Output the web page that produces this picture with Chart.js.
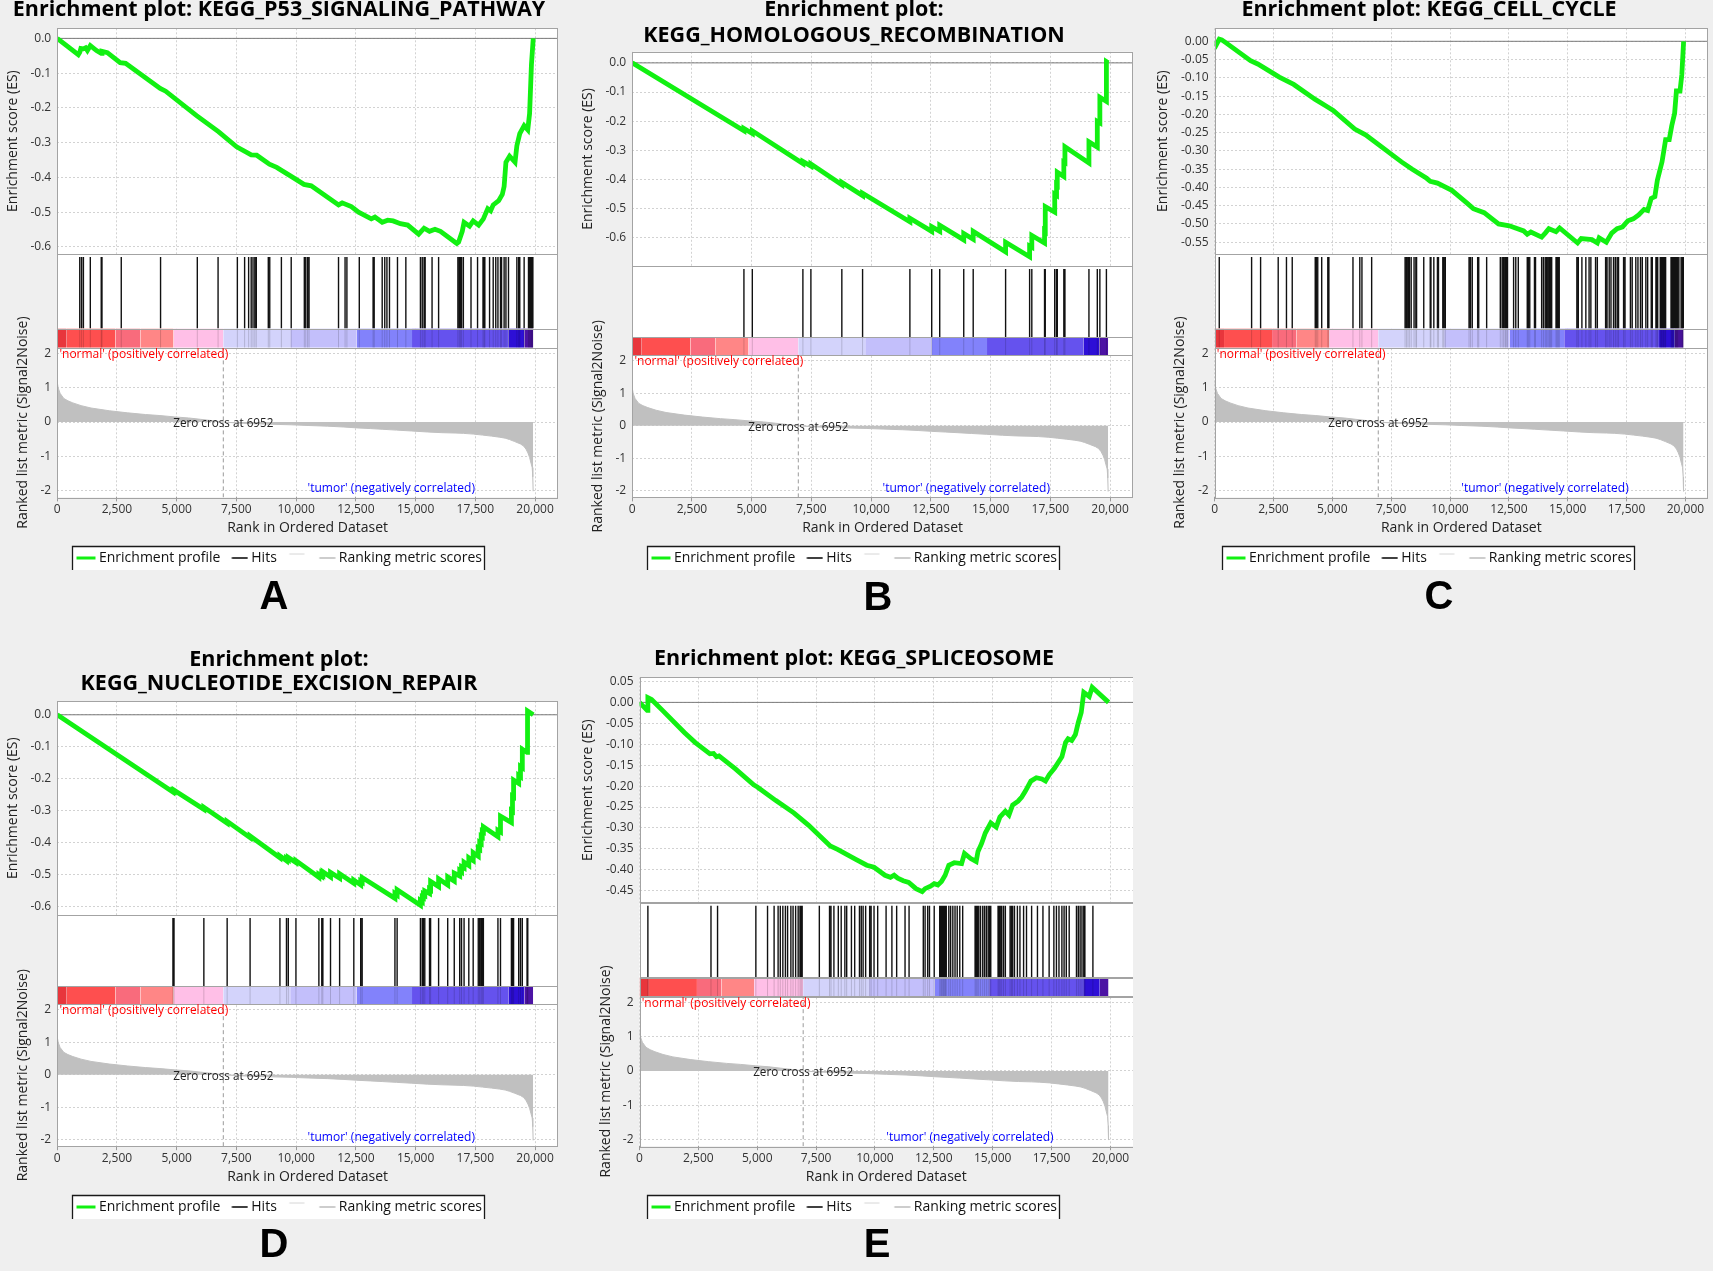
<!DOCTYPE html>
<html>
<head>
<meta charset="utf-8">
<script src="https://cdn.jsdelivr.net/npm/chart.js@4"></script>
<style>
html,body{margin:0;padding:0;background:#efefef;}
body{width:1713px;height:1271px;position:relative;overflow:hidden;}
canvas{position:absolute;}
.letter{position:absolute;font:bold 40px "Liberation Sans",Arial,sans-serif;color:#000;transform:translate(-50%,-50%);line-height:1;}
</style>
</head>
<body>
<script>
// ---------------- shared data ----------------
const xMax = 20960;
const xTicks = [0, 2500, 5000, 7500, 10000, 12500, 15000, 17500, 20000];
const xTickLabels = ['0', '2,500', '5,000', '7,500', '10,000', '12,500', '15,000', '17,500', '20,000'];

const metricRanks  = [0, 40, 120, 275, 450, 655, 1000, 1417, 2180, 2940, 3700, 4300, 4920, 5500, 6000, 6500, 6952, 7600, 8270, 9000, 9790, 10500, 11320, 12000, 12540, 13100, 13600, 14200, 14820, 15500, 16100, 16650, 17000, 17410, 17800, 18170, 18500, 18750, 18930, 19150, 19390, 19520, 19620, 19700, 19770, 19830, 19880, 19905, 19920];
const metricValues = [1.18, 1.0, 0.84, 0.69, 0.62, 0.56, 0.48, 0.41, 0.33, 0.27, 0.22, 0.19, 0.15, 0.12, 0.08, 0.04, 0.0, -0.03, -0.05, -0.065, -0.08, -0.10, -0.12, -0.145, -0.17, -0.19, -0.21, -0.235, -0.26, -0.29, -0.31, -0.32, -0.33, -0.35, -0.38, -0.41, -0.44, -0.47, -0.51, -0.57, -0.64, -0.70, -0.79, -0.90, -1.03, -1.2, -1.33, -1.6, -2.02];
const metricTicks = [-2, -1, 0, 1, 2];
const metricTickLabels = ['-2', '-1', '0', '1', '2'];
const metricRange = [-2.2, 2.17];

const bandEdges  = [0, 400, 2440, 3480, 4870, 6950, 9750, 12540, 14850, 18880, 19550, 19920];
const bandColors = ['#e8363c', '#fe4f4f', '#f96b7c', '#ff8686', '#ffbfe7', '#d3d3fb', '#c3bffb', '#8282fb', '#6552ee', '#2d0fd6', '#4c13a4'];

const zeroCross = 6952;
const posLabel = "'normal' (positively correlated)";
const negLabel = "'tumor' (negatively correlated)";
const zeroLabel = 'Zero cross at 6952';
const legendNames = ['Enrichment profile', 'Hits', '', 'Ranking metric scores'];
const xTitle = 'Rank in Ordered Dataset';
const esTitle = 'Enrichment score (ES)';
const metricTitle = 'Ranked list metric (Signal2Noise)';

const esTicks1 = [-0.6, -0.5, -0.4, -0.3, -0.2, -0.1, 0];
const esTickLabels1 = ['-0.6', '-0.5', '-0.4', '-0.3', '-0.2', '-0.1', '0.0'];
const esTicksC = [-0.55, -0.5, -0.45, -0.4, -0.35, -0.3, -0.25, -0.2, -0.15, -0.1, -0.05, 0];
const esTickLabelsC = ['-0.55', '-0.50', '-0.45', '-0.40', '-0.35', '-0.30', '-0.25', '-0.20', '-0.15', '-0.10', '-0.05', '0.00'];
const esTicksE = [-0.45, -0.4, -0.35, -0.3, -0.25, -0.2, -0.15, -0.1, -0.05, 0, 0.05];
const esTickLabelsE = ['-0.45', '-0.40', '-0.35', '-0.30', '-0.25', '-0.20', '-0.15', '-0.10', '-0.05', '0.00', '0.05'];

// ---------------- panel A ----------------
const titleA = ['Enrichment plot: KEGG_P53_SIGNALING_PATHWAY'];
const esRangeA = [-0.62, 0.029];
const esA = [[0,0],[883,-0.047],[944,-0.04],[990,-0.029],[1097,-0.03],[1188,-0.027],[1264,-0.035],[1386,-0.021],[1645,-0.035],[1843,-0.043],[1874,-0.037],[2100,-0.041],[2635,-0.07],[2864,-0.072],[4311,-0.144],[4540,-0.152],[5834,-0.222],[6748,-0.268],[7510,-0.312],[8119,-0.335],[8348,-0.336],[8881,-0.362],[9186,-0.371],[9794,-0.397],[10327,-0.42],[10632,-0.424],[11775,-0.479],[11927,-0.473],[12308,-0.484],[12613,-0.5],[13146,-0.519],[13298,-0.514],[13603,-0.529],[13832,-0.523],[14060,-0.525],[14365,-0.533],[14670,-0.537],[15127,-0.563],[15355,-0.546],[15583,-0.555],[15811,-0.549],[16040,-0.555],[16725,-0.59],[16801,-0.586],[16953,-0.555],[17029,-0.529],[17258,-0.54],[17410,-0.525],[17639,-0.537],[17837,-0.519],[17943,-0.502],[18020,-0.49],[18141,-0.496],[18248,-0.479],[18477,-0.467],[18629,-0.449],[18705,-0.426],[18781,-0.356],[18933,-0.339],[19162,-0.356],[19238,-0.309],[19360,-0.274],[19543,-0.251],[19695,-0.263],[19771,-0.216],[19848,-0.076],[19924,0]];
const hitsA = [944,1021,1097,1386,1843,1874,2681,4326,5864,6733,7540,7844,8012,8119,8195,8271,8332,8835,8896,9383,9794,10343,10403,10480,10541,11774,12048,12125,12643,13221,13267,13602,13709,13800,13907,14242,14592,15202,15278,15354,15400,15689,15963,16770,16831,16877,16923,16999,17319,17593,17821,17867,17898,18096,18248,18355,18446,18553,18598,18705,18781,18888,19238,19314,19360,19543,19725,19771,19817,19848,19878,19908];

// ---------------- panel B ----------------
const titleB = ['Enrichment plot:', 'KEGG_HOMOLOGOUS_RECOMBINATION'];
const esRangeB = [-0.697, 0.038];
const esB = [[0,0],[4676,-0.233],[4676,-0.225],[5027,-0.242],[5027,-0.233],[7144,-0.345],[7144,-0.338],[7479,-0.354],[7479,-0.347],[8774,-0.418],[8774,-0.41],[9642,-0.455],[9642,-0.447],[11622,-0.545],[11622,-0.533],[12536,-0.578],[12536,-0.562],[12871,-0.578],[12871,-0.557],[13876,-0.607],[13876,-0.585],[14272,-0.605],[14272,-0.578],[15628,-0.648],[15628,-0.615],[16633,-0.665],[16633,-0.628],[16725,-0.632],[16725,-0.592],[17258,-0.618],[17258,-0.576],[17288,-0.578],[17288,-0.493],[17684,-0.512],[17684,-0.45],[17760,-0.454],[17760,-0.417],[17791,-0.419],[17791,-0.375],[18065,-0.39],[18065,-0.34],[18111,-0.342],[18111,-0.288],[19116,-0.343],[19116,-0.271],[19466,-0.289],[19466,-0.201],[19573,-0.206],[19573,-0.118],[19847,-0.132],[19847,0.004],[19924,0]];
const hitsB = [4676,5027,7144,7479,8774,9642,11622,12536,12871,13876,14272,15628,16633,16725,17258,17288,17684,17760,17791,18065,18111,19116,19466,19573,19847];

// ---------------- panel C ----------------
const titleC = ['Enrichment plot: KEGG_CELL_CYCLE'];
const esRangeC = [-0.582, 0.0356];
const esC = [[0,0],[76,-0.009],[198,0.006],[305,0.004],[458,-0.003],[1527,-0.053],[1832,-0.062],[2595,-0.092],[2748,-0.098],[3359,-0.118],[4275,-0.159],[4733,-0.177],[5038,-0.189],[5954,-0.24],[6412,-0.256],[7939,-0.33],[8397,-0.35],[9008,-0.375],[9160,-0.383],[9466,-0.388],[10076,-0.408],[10687,-0.441],[10992,-0.458],[11450,-0.469],[12061,-0.5],[12519,-0.505],[13130,-0.519],[13282,-0.528],[13435,-0.522],[13893,-0.536],[14046,-0.525],[14199,-0.513],[14504,-0.521],[14656,-0.511],[15420,-0.552],[15573,-0.54],[16030,-0.543],[16259,-0.552],[16336,-0.538],[16641,-0.55],[16870,-0.525],[17099,-0.513],[17328,-0.508],[17557,-0.491],[17786,-0.486],[18015,-0.475],[18244,-0.46],[18397,-0.463],[18549,-0.43],[18702,-0.425],[18809,-0.38],[19007,-0.33],[19160,-0.269],[19313,-0.269],[19420,-0.231],[19542,-0.197],[19618,-0.136],[19771,-0.136],[19847,-0.092],[19924,0]];
const hitsC = [198,1572,1954,2702,3053,3298,4275,4321,4382,4550,4809,4855,5878,6168,6259,6672,8092,8153,8214,8274,8351,8473,8549,8580,8885,9160,9191,9313,9466,9511,9694,9740,9801,10809,10870,10946,11175,11221,11557,12137,12214,12275,12336,12366,12412,12443,12702,12794,12901,13282,13328,13389,13588,13633,13893,13969,14046,14107,14168,14229,14275,14320,14504,14549,14595,14641,15389,15450,15603,15771,15908,15984,16183,16259,16610,16671,16763,16839,16946,17023,17099,17160,17374,17435,17664,17740,17893,17984,18091,18168,18320,18397,18549,18595,18748,18794,18824,18931,18977,19007,19053,19084,19129,19160,19389,19420,19450,19481,19511,19542,19572,19603,19633,19664,19725,19817,19878,19910];

// ---------------- panel D ----------------
const titleD = ['Enrichment plot:', 'KEGG_NUCLEOTIDE_EXCISION_REPAIR'];
const esRangeD = [-0.628, 0.0425];
const esD = [[0,0],[4844,-0.242],[4844,-0.238],[4889,-0.24],[4889,-0.236],[6138,-0.296],[6138,-0.29],[7113,-0.34],[7113,-0.334],[8073,-0.385],[8073,-0.38],[9322,-0.448],[9322,-0.442],[9596,-0.457],[9596,-0.45],[9672,-0.454],[9672,-0.447],[9992,-0.463],[9992,-0.457],[10952,-0.509],[10952,-0.5],[11073,-0.506],[11073,-0.497],[11119,-0.5],[11119,-0.492],[11439,-0.508],[11439,-0.494],[11820,-0.512],[11820,-0.498],[12414,-0.528],[12414,-0.518],[12703,-0.533],[12703,-0.521],[12764,-0.524],[12764,-0.51],[14135,-0.575],[14135,-0.56],[14227,-0.565],[14227,-0.548],[15202,-0.597],[15202,-0.582],[15278,-0.586],[15278,-0.571],[15324,-0.573],[15324,-0.562],[15385,-0.565],[15385,-0.552],[15583,-0.56],[15583,-0.546],[15628,-0.548],[15628,-0.522],[15963,-0.538],[15963,-0.514],[16344,-0.533],[16344,-0.508],[16618,-0.521],[16618,-0.496],[16847,-0.505],[16847,-0.488],[16923,-0.492],[16923,-0.476],[17029,-0.48],[17029,-0.462],[17227,-0.472],[17227,-0.448],[17410,-0.457],[17410,-0.432],[17623,-0.443],[17623,-0.418],[17684,-0.421],[17684,-0.4],[17745,-0.403],[17745,-0.38],[17791,-0.382],[17791,-0.365],[17837,-0.367],[17837,-0.351],[18446,-0.382],[18446,-0.362],[18553,-0.367],[18553,-0.318],[19010,-0.338],[19010,-0.3],[19055,-0.302],[19055,-0.255],[19101,-0.257],[19101,-0.205],[19314,-0.215],[19314,-0.19],[19390,-0.194],[19390,-0.162],[19467,-0.166],[19467,-0.108],[19665,-0.118],[19665,-0.06],[19695,-0.062],[19695,0.012],[19924,0]];
const hitsD = [4844,4889,6138,7113,8073,9322,9596,9672,9992,10952,11073,11119,11439,11820,12414,12703,12764,14135,14227,15202,15278,15324,15385,15583,15628,15963,16344,16618,16847,16923,17029,17227,17410,17623,17684,17745,17791,17837,18446,18553,19010,19055,19101,19314,19390,19467,19665,19695];

// ---------------- panel E ----------------
const titleE = ['Enrichment plot: KEGG_SPLICEOSOME'];
const esRangeE = [-0.479, 0.0597];
const esE = [[0,0],[325,-0.019],[356,0.0115],[511,0.007],[976,-0.019],[1905,-0.072],[2370,-0.096],[2990,-0.123],[3145,-0.122],[3269,-0.13],[3377,-0.128],[4074,-0.159],[4849,-0.197],[5004,-0.202],[5779,-0.234],[6553,-0.264],[7173,-0.293],[8102,-0.343],[8412,-0.351],[9187,-0.375],[9652,-0.389],[9961,-0.394],[10426,-0.413],[10659,-0.418],[10814,-0.413],[10969,-0.42],[11201,-0.426],[11433,-0.43],[11743,-0.445],[12006,-0.452],[12130,-0.445],[12362,-0.439],[12517,-0.433],[12672,-0.436],[12827,-0.428],[12982,-0.413],[13137,-0.389],[13370,-0.383],[13680,-0.385],[13803,-0.361],[14067,-0.373],[14299,-0.38],[14377,-0.356],[14531,-0.337],[14686,-0.312],[14919,-0.288],[15151,-0.298],[15306,-0.274],[15538,-0.26],[15693,-0.269],[15848,-0.245],[16080,-0.236],[16235,-0.226],[16390,-0.212],[16623,-0.188],[16855,-0.18],[17088,-0.183],[17243,-0.188],[17398,-0.173],[17630,-0.157],[17940,-0.13],[18095,-0.096],[18203,-0.087],[18358,-0.091],[18513,-0.077],[18637,-0.048],[18761,-0.024],[18869,0.024],[19102,0.014],[19226,0.036],[19924,0]];
const hitsE = [356,3036,3315,4942,5438,5717,5887,5980,6088,6197,6290,6429,6522,6631,6739,6816,6863,6909,7638,8071,8133,8257,8443,8567,8722,8800,9001,9140,9342,9419,9497,9605,9775,9837,9961,10116,10473,10720,10922,11278,11449,12053,12130,12239,12316,12517,12750,12796,12827,12874,12905,12936,12967,12998,13029,13137,13215,13308,13401,13494,13602,13726,14253,14299,14346,14408,14485,14578,14655,14733,14810,14872,14919,15229,15275,15322,15384,15461,15539,15740,15802,15848,15926,16050,16158,16313,16437,16654,16902,17135,17398,17599,17708,17816,17940,18033,18126,18250,18559,18637,18714,18792,18869,18916,19257];

// ---------------- layout (positions / styles only) ----------------
const FONT = '"Open Sans", "DejaVu Sans", sans-serif';
const TITLE_SIZE = 21.5;
const panels = [
  {letter:'A', title:titleA, es:esA, hits:hitsA, esRange:esRangeA, esTicks:esTicks1, esLabels:esTickLabels1,
   left:0, top:-4, w:558, h:579, yW:57.2, lh:1.1163, tTop:2.1, tBot:6.2, xH:45.6, xPad:6.9, esPad:4.3, mPad:14.2, lx:274, ly:595},
  {letter:'B', title:titleB, es:esB, hits:hitsB, esRange:esRangeB, esTicks:esTicks1, esLabels:esTickLabels1,
   left:575, top:-4, w:558, h:579, yW:57.2, lh:1.186, tTop:1.35, tBot:3.45, xH:45.6, xPad:6.9, esPad:4.3, mPad:14.2, lx:878, ly:596},
  {letter:'C', title:titleC, es:esC, hits:hitsC, esRange:esRangeC, esTicks:esTicksC, esLabels:esTickLabelsC,
   left:1150, top:-4, w:558, h:579, yW:64.6, lh:1.1163, tTop:2.1, tBot:6.2, xH:45.6, xPad:6.9, esPad:4.9, mPad:22.1, lx:1439, ly:595},
  {letter:'D', title:titleD, es:esD, hits:hitsD, esRange:esRangeD, esTicks:esTicks1, esLabels:esTickLabels1,
   left:0, top:640, w:558, h:584, yW:57.2, lh:1.1256, tTop:8, tBot:4.8, xH:45.8, xPad:6.4, esPad:4.3, mPad:14.2, lx:274, ly:1243},
  {letter:'E', title:titleE, es:esE, hits:hitsE, esRange:esRangeE, esTicks:esTicksE, esLabels:esTickLabelsE,
   left:575, top:640, w:558, h:584, yW:64.5, lh:1.1163, tTop:7.3, tBot:6.1, xH:45.8, xPad:6.4, esPad:5.1, mPad:22.6, lx:877, ly:1243}
];

// legend swatch: a short line drawn at the right end of a small canvas (so the gap to the label is tight)
function lineIcon(color, width, len, raise) {
  const c = document.createElement('canvas');
  c.width = 24; c.height = 14;
  const g = c.getContext('2d');
  g.strokeStyle = color; g.lineWidth = width;
  g.beginPath();
  const y = 7 - raise;
  g.moveTo(24 - len - 0.5, y); g.lineTo(23.5, y);
  g.stroke();
  return c;
}

const decor = {
  id: 'gseaDecor',
  beforeDraw(chart) {
    const {ctx, chartArea: a} = chart;
    ctx.save();
    ctx.fillStyle = '#ffffff';
    ctx.fillRect(a.left, a.top, a.right - a.left, a.bottom - a.top);
    const hb = chart.legend && chart.legend.legendHitBoxes;
    if (hb && hb.length) {
      const l = Math.round(Math.min(...hb.map(h => h.left)) - 3.5);
      const r = Math.round(Math.max(...hb.map(h => h.left + h.width)) + 3);
      const t = Math.round(hb[0].top - 5.5);
      const b = Math.round(hb[0].top + hb[0].height + 4.5);
      ctx.fillRect(l, t, r - l, b - t);
      ctx.strokeStyle = '#1a1a1a';
      ctx.lineWidth = 1.3;
      ctx.beginPath();
      ctx.moveTo(l + 0.5, b); ctx.lineTo(l + 0.5, t + 0.5); ctx.lineTo(r - 0.5, t + 0.5); ctx.lineTo(r - 0.5, b);
      ctx.stroke();
    }
    ctx.restore();
  },
  beforeDatasetsDraw(chart) {
    const {ctx, chartArea: a, scales} = chart;
    ctx.save();
    ctx.fillStyle = '#ffffff';
    ['yHits', 'yBar'].forEach(id => {
      const s = scales[id];
      ctx.fillRect(a.left, s.top, a.right - a.left, s.bottom - s.top);
    });
    ctx.restore();
  },
  afterDatasetsDraw(chart, args, opts) {
    const {ctx, chartArea: a, scales} = chart;
    const x = scales.x, ym = scales.yMetric;
    ctx.save();
    ctx.strokeStyle = '#a3a3a3';
    ctx.lineWidth = 1;
    ['yES', 'yHits', 'yBar', 'yMetric'].forEach(id => {
      const s = scales[id];
      ctx.strokeRect(Math.round(a.left) + 0.5, Math.round(s.top) + 0.5, Math.round(a.right - a.left) - 1, Math.round(s.bottom - s.top));
    });
    ctx.textBaseline = 'middle';
    ctx.font = '12px ' + FONT;
    ctx.textAlign = 'left';
    ctx.fillStyle = '#ff0000';
    ctx.fillText(opts.pos.text, x.getPixelForValue(opts.pos.at[0]), ym.getPixelForValue(opts.pos.at[1]));
    ctx.fillStyle = '#0000ff';
    ctx.fillText(opts.neg.text, x.getPixelForValue(opts.neg.at[0]), ym.getPixelForValue(opts.neg.at[1]));
    ctx.font = '11.7px ' + FONT;
    ctx.textAlign = 'center';
    ctx.fillStyle = '#222';
    ctx.fillText(opts.zero.text, x.getPixelForValue(opts.zero.at[0]), ym.getPixelForValue(opts.zero.at[1]));
    ctx.restore();
  }
};

function segs(hits, y0, y1) {
  const d = [];
  hits.forEach(r => { d.push({x: r, y: y0}, {x: r, y: y1}, {x: r, y: null}); });
  return d;
}

function build(p) {
  const cv = document.createElement('canvas');
  cv.width = p.w; cv.height = p.h;
  cv.style.left = p.left + 'px'; cv.style.top = p.top + 'px';
  cv.style.width = p.w + 'px'; cv.style.height = p.h + 'px';
  document.body.appendChild(cv);
  const lt = document.createElement('div');
  lt.className = 'letter'; lt.textContent = p.letter;
  lt.style.left = p.lx + 'px'; lt.style.top = p.ly + 'px';
  document.body.appendChild(lt);

  const datasets = [
    {type: 'line', label: legendNames[0], legendOrder: 0, legendWidth: 3, legendLen: 19,
     data: p.es.map(([x, y]) => ({x, y})), yAxisID: 'yES',
     borderColor: '#12f012', borderWidth: 4.8, pointRadius: 0, tension: 0, fill: false, borderJoinStyle: 'miter'},
    {type: 'line', label: 'es-zero', data: [{x: 0, y: 0}, {x: xMax, y: 0}], yAxisID: 'yES',
     borderColor: '#7a7a7a', borderWidth: 1, pointRadius: 0, fill: false},
    {type: 'line', label: legendNames[1], legendOrder: 1, legendWidth: 1.6, legendLen: 16,
     data: segs(p.hits, 0.0, 0.96), yAxisID: 'yHits',
     borderColor: '#111111', borderWidth: 1.4, pointRadius: 0, spanGaps: false, fill: false},
    {type: 'line', label: 'hit-shadow', data: segs(p.hits, 0, 1), yAxisID: 'yBar',
     borderColor: 'rgba(0,0,0,0.16)', borderWidth: 1, pointRadius: 0, spanGaps: false, fill: false},
    {type: 'line', label: 'zero-cross', data: [{x: zeroCross, y: metricRange[0]}, {x: zeroCross, y: metricRange[1]}],
     yAxisID: 'yMetric', borderColor: '#9a9a9a', borderWidth: 1, borderDash: [4, 3], pointRadius: 0, fill: false},
    {type: 'line', label: legendNames[3], legendOrder: 3, legendWidth: 1.5, legendLen: 16, legendColor: '#bdbdbd',
     data: metricRanks.map((r, i) => ({x: r, y: metricValues[i]})), yAxisID: 'yMetric',
     borderColor: '#c0c0c0', backgroundColor: '#c0c0c0', borderWidth: 1, pointRadius: 0, fill: 'origin'}
  ];
  bandColors.forEach((c, i) => {
    const ds = {type: 'line', label: i === 0 ? legendNames[2] : 'band', data: [{x: bandEdges[i], y: 1}, {x: bandEdges[i + 1], y: 1}],
      yAxisID: 'yBar', borderWidth: 0, borderColor: c, backgroundColor: c, pointRadius: 0, fill: 'start'};
    if (i === 0) { ds.legendOrder = 2; ds.legendColor = '#d6d6d6'; ds.legendWidth = 1; ds.legendLen = 15; ds.legendRaise = 4; }
    datasets.push(ds);
  });

  const tickFont = {family: FONT, size: 12};
  const titleFont = {family: FONT, size: 14};
  const noAxis = (weight, sw) => ({
    type: 'linear', position: 'left', stack: 'gsea', stackWeight: sw, weight: weight, min: 0, max: 1,
    afterFit: s => { s.width = p.yW; },
    ticks: {display: false}, grid: {display: false}, border: {display: false}
  });

  new Chart(cv, {
    data: {datasets},
    options: {
      responsive: false, animation: false, devicePixelRatio: 1,
      layout: {padding: 0},
      interaction: {mode: null},
      plugins: {
        tooltip: {enabled: false},
        title: {display: true, text: p.title, color: '#000',
          font: {family: FONT, size: TITLE_SIZE, weight: 'bold', lineHeight: p.lh},
          padding: {top: p.tTop, bottom: p.tBot}},
        legend: {display: true, position: 'bottom',
          labels: {font: {family: FONT, size: 14}, color: '#111', usePointStyle: true, pointStyleWidth: 16, padding: 8,
            generateLabels(chart) {
              return chart.data.datasets.map((d, i) => ({d, i}))
                .filter(o => o.d.legendOrder !== undefined)
                .sort((a, b) => a.d.legendOrder - b.d.legendOrder)
                .map(({d, i}) => ({text: d.label,
                  strokeStyle: d.legendColor || d.borderColor, fillStyle: d.legendColor || d.borderColor, lineWidth: 0,
                  pointStyle: lineIcon(d.legendColor || d.borderColor, d.legendWidth, d.legendLen, d.legendRaise || 0),
                  hidden: false, datasetIndex: i, fontColor: '#111'}));
            }}},
        gseaDecor: {
          pos: {text: posLabel, at: [92, 1.98]},
          neg: {text: negLabel, at: [10480, -1.94]},
          zero: {text: zeroLabel, at: [zeroCross, -0.047]}
        }
      },
      scales: {
        x: {type: 'linear', position: 'bottom', min: 0, max: xMax, bounds: 'data',
          afterBuildTicks: s => { s.ticks = xTicks.map(v => ({value: v})); },
          afterFit: s => { s.height = p.xH; },
          ticks: {autoSkip: false, maxRotation: 0, padding: 1, color: '#333', font: tickFont, callback: (v, i) => xTickLabels[i]},
          grid: {color: '#d2d2d2', lineWidth: 1, drawTicks: true, tickLength: 4, tickColor: '#9a9a9a', tickBorderDash: []},
          border: {display: false, dash: [2, 2]},
          title: {display: true, text: xTitle, color: '#222', font: titleFont, padding: {top: 0, bottom: p.xPad}}},
        yMetric: {type: 'linear', position: 'left', stack: 'gsea', stackWeight: 31.9, weight: 1,
          min: metricRange[0], max: metricRange[1], bounds: 'data',
          afterBuildTicks: s => { s.ticks = metricTicks.map(v => ({value: v})); },
          afterFit: s => { s.width = p.yW; },
          ticks: {autoSkip: false, padding: 6, color: '#333', font: tickFont, callback: (v, i) => metricTickLabels[i]},
          grid: {color: '#d2d2d2', drawTicks: false},
          border: {display: false, dash: [2, 2]},
          title: {display: true, text: metricTitle, color: '#222', font: titleFont, padding: {top: p.mPad, bottom: 0}}},
        yBar: noAxis(2, 4.1),
        yHits: noAxis(3, 15.9),
        yES: {type: 'linear', position: 'left', stack: 'gsea', stackWeight: 48.1, weight: 4,
          min: p.esRange[0], max: p.esRange[1], bounds: 'data',
          afterBuildTicks: s => { s.ticks = p.esTicks.map(v => ({value: v})); },
          afterFit: s => { s.width = p.yW; },
          ticks: {autoSkip: false, padding: 6, color: '#333', font: tickFont, callback: (v, i) => p.esLabels[i]},
          grid: {color: '#d2d2d2', drawTicks: false},
          border: {display: false, dash: [2, 2]},
          title: {display: true, text: esTitle, color: '#222', font: titleFont, padding: {top: p.esPad, bottom: 0}}}
      }
    },
    plugins: [decor]
  });
}

function start() { panels.forEach(build); }
if (document.fonts && document.fonts.load) {
  Promise.all([
    document.fonts.load('12px "Open Sans"'),
    document.fonts.load('bold 20px "Open Sans"'),
    document.fonts.load('bold 40px "Liberation Sans"')
  ]).then(start, start);
} else { start(); }
</script>
</body>
</html>
